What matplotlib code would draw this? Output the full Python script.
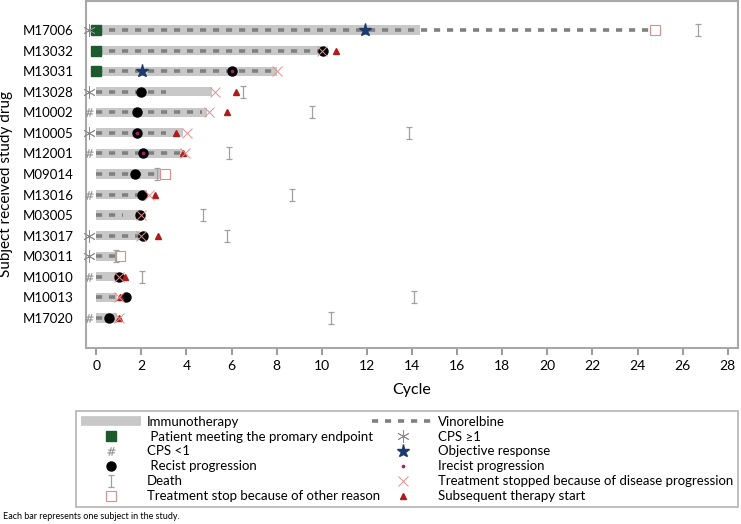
import matplotlib
matplotlib.use("Agg")
import matplotlib.pyplot as plt
import numpy as np
from matplotlib.lines import Line2D
from matplotlib.path import Path

plt.rcParams["font.family"] = ["Lato", "DejaVu Sans"]

nan = np.nan

subjects = ["M17006", "M13032", "M13031", "M13028", "M10002", "M10005", "M12001",
            "M09014", "M13016", "M03005", "M13017", "M03011", "M10010", "M10013", "M17020"]
immuno_end = [14.36, 10.0, 8.0, 5.13, 4.9, 3.87, 3.8, 2.84, 2.25, 1.95, 1.95, 0.93, 0.93, 0.93, 0.93]
vino_end = [24.7, 10.0, 7.9, 3.1, 4.7, 3.1, 3.7, 2.7, 2.0, 1.2, 2.0, 0.9, 0.5, 1.0, 0.4]
cps_ge1 = [-0.3, nan, nan, -0.3, nan, -0.3, nan, nan, nan, nan, -0.3, -0.3, nan, nan, nan]
cps_lt1 = [nan, nan, nan, nan, -0.3, nan, -0.3, nan, -0.3, nan, nan, nan, -0.3, nan, -0.3]
primary = [0, 0, 0, nan, nan, nan, nan, nan, nan, nan, nan, nan, nan, nan, nan]
response = [11.92, nan, 2.03, nan, nan, nan, nan, nan, nan, nan, nan, nan, nan, nan, nan]
recist = [nan, 10.07, 6.02, 2.0, 1.82, 1.82, 2.09, 1.73, 2.03, 1.95, 2.07, nan, 1.03, 1.33, 0.55]
irecist = [nan, nan, 6.02, nan, nan, 1.82, 2.09, nan, nan, nan, nan, nan, nan, nan, nan]
death = [26.67, nan, nan, 6.52, 9.58, 13.87, 5.9, 2.7, 8.7, 4.75, 5.8, 0.9, 2.03, 14.09, 10.4]
stop_other = [24.77, nan, nan, nan, nan, nan, nan, 3.03, nan, nan, nan, 1.06, nan, nan, nan]
stop_pd = [nan, 10.0, 8.0, 5.27, 5.02, 4.02, 3.94, nan, 2.35, 2.0, 2.0, nan, 1.0, 1.0, 1.02]
subsequent = [nan, 10.62, nan, 6.2, 5.81, 3.53, 3.84, nan, 2.6, nan, 2.73, nan, 1.3, 1.06, 1.02]

BAR_GREY = "#c8c8c8"
DASH_GREY = "#808080"
death_marker = Path([(-0.5, 1), (0.5, 1), (0, 1), (0, -1), (-0.5, -1), (0.5, -1)],
                    [Path.MOVETO, Path.LINETO, Path.MOVETO, Path.LINETO, Path.MOVETO, Path.LINETO])

styles = {
    "cps_ge1": dict(marker=(6, 2, 0), ms=9, mew=0.6, color="#8c8c8c", ls="none"),
    "cps_lt1": dict(marker="$\\#$", ms=6, mew=0.1, color="#8c8c8c", ls="none"),
    "primary": dict(marker="s", ms=6.5, color="#1d5a2e", ls="none"),
    "response": dict(marker="*", ms=9.5, color="#1b3a6b", ls="none"),
    "recist": dict(marker="o", ms=6.5, color="black", ls="none"),
    "irecist": dict(marker="o", ms=1.6, color="#a0206a", ls="none"),
    "death": dict(marker=death_marker, ms=9, mew=0.9, color="#a0a0a0", mfc="none", ls="none"),
    "stop_other": dict(marker="s", ms=6.5, mew=0.8, color="#d98f8f", mfc="none", ls="none"),
    "stop_pd": dict(marker="x", ms=7, mew=0.7, color="#e09090", ls="none"),
    "subsequent": dict(marker="^", ms=4, color="#b01c1c", ls="none"),
}
dash_style = dict(color=DASH_GREY, lw=2.6, dashes=(1.7, 1.9), solid_capstyle="butt", dash_capstyle="butt")

fig = plt.figure(figsize=(7.41, 5.24), dpi=100)
ax = fig.add_axes([86 / 741, 1 - 348 / 524, 652 / 741, 347 / 524])

y = np.arange(len(subjects))
ax.barh(y, immuno_end, left=0, height=0.45, color=BAR_GREY, zorder=1)
for yi, ve in zip(y, vino_end):
    ax.plot([0, ve], [yi, yi], zorder=2, **dash_style)

series = [("primary", primary, 3), ("cps_ge1", cps_ge1, 3), ("cps_lt1", cps_lt1, 3),
          ("death", death, 3), ("stop_other", stop_other, 3), ("response", response, 4),
          ("recist", recist, 4), ("irecist", irecist, 5), ("subsequent", subsequent, 5),
          ("stop_pd", stop_pd, 6)]
for key, vals, z in series:
    ax.plot(vals, y, zorder=z, clip_on=False, **styles[key])

ax.set_xlim(-0.45, 28.45)
ax.set_ylim(len(subjects) - 1 + 1.46, -1.41)
ax.set_yticks(y)
ax.set_yticklabels(subjects, fontsize=9.5)
ax.set_xticks(np.arange(0, 29, 2))
ax.tick_params(axis="x", labelsize=10, colors="#888888", labelcolor="black", length=5, width=1.2)
ax.tick_params(axis="y", length=0, pad=9)
for s in ax.spines.values():
    s.set_color("#a8a8a8")
    s.set_linewidth(1.5)
ax.set_xlabel("Cycle", fontsize=11.5, labelpad=8)
ax.set_ylabel("Subject received study drug", fontsize=11)
ax.yaxis.set_label_coords((13 - 86) / 652, (348 - 184) / 347)

handles = [
    Line2D([], [], color=BAR_GREY, lw=7, solid_capstyle="butt"),
    Line2D([], [], **styles["primary"]),
    Line2D([], [], **styles["cps_lt1"]),
    Line2D([], [], **styles["recist"]),
    Line2D([], [], **styles["death"]),
    Line2D([], [], **styles["stop_other"]),
    Line2D([], [], **dash_style),
    Line2D([], [], **styles["cps_ge1"]),
    Line2D([], [], **styles["response"]),
    Line2D([], [], **styles["irecist"]),
    Line2D([], [], **styles["stop_pd"]),
    Line2D([], [], **styles["subsequent"]),
]
labels = ["Immunotherapy", " Patient meeting the promary endpoint", "CPS <1", " Recist progression",
          "Death", "Treatment stop because of other reason", "Vinorelbine", "CPS \u22651",
          "Objective response", "Irecist progression",
          "Treatment stopped because of disease progression", "Subsequent therapy start"]
leg = fig.legend(handles, labels, ncol=2, loc="upper left", mode="expand",
                 bbox_to_anchor=(76 / 741, 1 - 507 / 524, 662 / 741, 96 / 524),
                 fontsize=9.5, handlelength=4.6, handletextpad=0.4, labelspacing=0.22,
                 borderpad=0.35, columnspacing=1.0, fancybox=False, borderaxespad=0)
leg.get_frame().set_edgecolor("#a0a0a0")
leg.get_frame().set_linewidth(1.2)

fig.text(3 / 741, 1 - 519 / 524, "Each bar represents one subject in the study.", fontsize=6.5)

fig.savefig("out.png", dpi=100)
